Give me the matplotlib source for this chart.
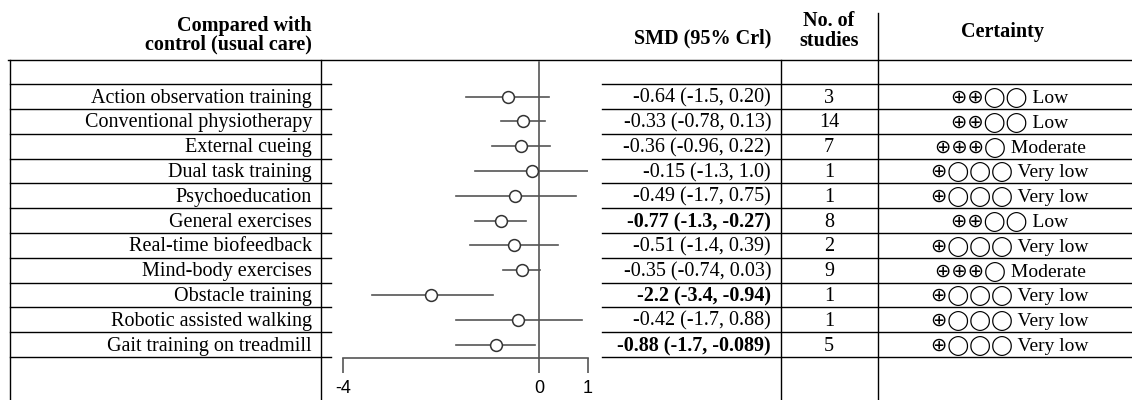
import matplotlib
matplotlib.use("Agg")
import matplotlib.pyplot as plt

# ---------------- data ----------------
interventions = [
    "Action observation training", "Conventional physiotherapy", "External cueing",
    "Dual task training", "Psychoeducation", "General exercises",
    "Real-time biofeedback", "Mind-body exercises", "Obstacle training",
    "Robotic assisted walking", "Gait training on treadmill",
]
smd = [-0.64, -0.33, -0.36, -0.15, -0.49, -0.77, -0.51, -0.35, -2.2, -0.42, -0.88]
lower = [-1.5, -0.78, -0.96, -1.3, -1.7, -1.3, -1.4, -0.74, -3.4, -1.7, -1.7]
upper = [0.20, 0.13, 0.22, 1.0, 0.75, -0.27, 0.39, 0.03, -0.94, 0.88, -0.089]
smd_text = [
    "-0.64 (-1.5, 0.20)", "-0.33 (-0.78, 0.13)", "-0.36 (-0.96, 0.22)",
    "-0.15 (-1.3, 1.0)", "-0.49 (-1.7, 0.75)", "-0.77 (-1.3, -0.27)",
    "-0.51 (-1.4, 0.39)", "-0.35 (-0.74, 0.03)", "-2.2 (-3.4, -0.94)",
    "-0.42 (-1.7, 0.88)", "-0.88 (-1.7, -0.089)",
]
significant = [False, False, False, False, False, True, False, False, True, False, True]
n_studies = [3, 14, 7, 1, 1, 8, 2, 9, 1, 1, 5]
certainty = [
    "⊕⊕◯◯ Low", "⊕⊕◯◯ Low", "⊕⊕⊕◯ Moderate", "⊕◯◯◯ Very low", "⊕◯◯◯ Very low",
    "⊕⊕◯◯ Low", "⊕◯◯◯ Very low", "⊕⊕⊕◯ Moderate", "⊕◯◯◯ Very low",
    "⊕◯◯◯ Very low", "⊕◯◯◯ Very low",
]
xticks = [-4, 0, 1]
xtick_labels = ["-4", "0", "1"]

# ---------------- layout (pixels) ----------------
W, H = 1132, 400
fig = plt.figure(figsize=(W / 100, H / 100), dpi=100)
bg = fig.add_axes([0, 0, 1, 1])
bg.set_xlim(0, W)
bg.set_ylim(H, 0)
bg.axis("off")

SERIF = ["Liberation Serif", "DejaVu Serif"]
SYM = ["Liberation Serif", "DejaVu Sans"]
FS = 14.5

top = 60.0
row_top = 84.2
row_h = 24.8
n = len(interventions)
lw_tab = 1.0
dy = 1.5  # visual baseline offset for serif text

def rc(i):
    return row_top + row_h * (i + 0.5)

# horizontal lines
bg.plot([8, W], [top, top], color="black", lw=lw_tab)
for k in range(n + 1):
    y = row_top + k * row_h
    bg.plot([10, 331], [y, y], color="black", lw=lw_tab)
    bg.plot([602, W], [y, y], color="black", lw=lw_tab)
# vertical lines
bg.plot([10, 10], [top, H], color="black", lw=lw_tab)
bg.plot([321, 321], [top, H], color="black", lw=lw_tab)
bg.plot([781, 781], [top, H], color="black", lw=lw_tab)
bg.plot([878, 878], [13, H], color="black", lw=lw_tab)

# headers
bg.text(312, 25.5, "Compared with", ha="right", va="center", family=SERIF, fontsize=FS, weight="bold")
bg.text(312, 44.5, "control (usual care)", ha="right", va="center", family=SERIF, fontsize=FS, weight="bold")
bg.text(771, 38.5, "SMD (95% Crl)", ha="right", va="center", family=SERIF, fontsize=FS, weight="bold")
bg.text(829, 21.5, "No. of", ha="center", va="center", family=SERIF, fontsize=FS, weight="bold")
bg.text(829, 40.5, "studies", ha="center", va="center", family=SERIF, fontsize=FS, weight="bold")
bg.text(1002, 32, "Certainty", ha="center", va="center", family=SERIF, fontsize=FS, weight="bold")

for i in range(n):
    y = rc(i) + dy
    bg.text(312, y, interventions[i], ha="right", va="center", family=SERIF, fontsize=FS)
    bg.text(771, y, smd_text[i], ha="right", va="center", family=SERIF, fontsize=FS,
            weight="bold" if significant[i] else "normal")
    bg.text(829, y, str(n_studies[i]), ha="center", va="center", family=SERIF, fontsize=FS)
    bg.text(1010, y, certainty[i], ha="center", va="center", family=SYM, fontsize=14)

# ---------------- forest plot ----------------
x0, x1 = 343, 588
ytop_px, ybot_px = 60, 358
ax = fig.add_axes([x0 / W, 1 - ybot_px / H, (x1 - x0) / W, (ybot_px - ytop_px) / H])
ax.patch.set_alpha(0)
ax.set_xlim(-4, 1)
ylo = (ytop_px - rc(0)) / row_h
yhi = (ybot_px - rc(0)) / row_h
ax.set_ylim(yhi, ylo)
for s in ["top", "right", "left"]:
    ax.spines[s].set_visible(False)
ax.spines["bottom"].set_color("#555555")
ax.spines["bottom"].set_linewidth(1.2)
ax.set_yticks([])
ax.set_xticks(xticks)
ax.set_xticklabels(xtick_labels, family=["Liberation Sans", "DejaVu Sans"], fontsize=13)
ax.tick_params(axis="x", direction="out", length=11, width=1.2, color="#555555", pad=5)

ax.axvline(0, ymin=0, ymax=(ybot_px - 62) / (ybot_px - ytop_px), color="#555555", lw=1.2)

rows = list(range(n))
for i in rows:
    ax.plot([lower[i], upper[i]], [i, i], color="#555555", lw=1.2, zorder=2)
ax.plot(smd, rows, linestyle="none", marker="o", markersize=8.5,
        markerfacecolor="white", markeredgecolor="#333333", markeredgewidth=1.1, zorder=3)

fig.savefig("out.png", dpi=100)
